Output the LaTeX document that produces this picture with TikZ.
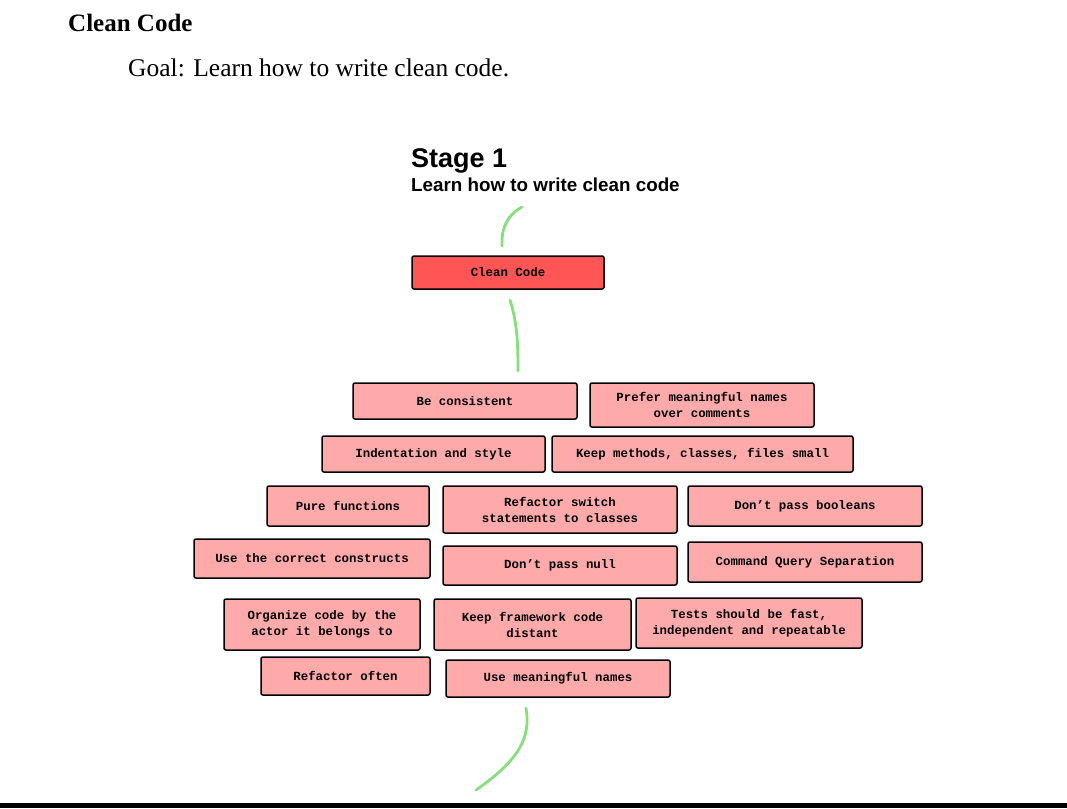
\documentclass[tikz,border=0pt]{standalone}
\usepackage{fontspec}
\setmainfont{Liberation Serif}
\newfontfamily\headsans{Liberation Sans}
\newfontfamily\boxmono{Liberation Mono}
\definecolor{lgreen}{RGB}{134,222,124}
\definecolor{redbox}{RGB}{255,85,85}
\definecolor{pinkbox}{RGB}{255,170,170}
\tikzset{
  box/.style={draw=black, line width=1.5pt, rounded corners=2pt, fill=pinkbox,
    inner sep=1pt, align=center, font=\boxmono\bfseries\fontsize{12.4}{16}\selectfont},
  mainbox/.style={box, fill=redbox},
  link/.style={draw=lgreen, line width=2.8pt, line cap=round},
}
\begin{document}
\begin{tikzpicture}[x=1pt,y=-1pt]
\useasboundingbox (0,0) rectangle (1067,808);
\fill[white] (0,0) rectangle (1067,808);
\fill[black] (0,803) rectangle (1067,808);
% headings
\node[anchor=base west, inner sep=0, font=\bfseries\fontsize{25}{30}\selectfont] (h1) at (68,31.5) {Clean Code};
\node[anchor=base west, inner sep=0, font=\fontsize{25.5}{30}\selectfont] (goal) at (128,76.5) {Goal: Learn how to write clean code.};
\node[anchor=base west, inner sep=0, font=\headsans\bfseries\fontsize{27}{32}\selectfont] (stage) at (411,167) {Stage 1};
\node[anchor=base west, inner sep=0, font=\headsans\bfseries\fontsize{18.8}{22}\selectfont] (sub) at (411,191) {Learn how to write clean code};
% main
\node[mainbox, minimum width=192pt, minimum height=33pt] (cc) at (508,272.5) {Clean Code};
% items
\node[box, minimum width=224pt, minimum height=36pt] (b1) at (465,401) {Be consistent};
\node[box, minimum width=224pt, minimum height=44pt] (b2) at (702,405) {Prefer meaningful names\\over comments};
\node[box, minimum width=223pt, minimum height=36pt] (b3) at (433.5,454) {Indentation and style};
\node[box, minimum width=301pt, minimum height=36pt] (b4) at (702.5,454) {Keep methods, classes, files small};
\node[box, minimum width=162pt, minimum height=40pt] (b5) at (348,506) {Pure functions};
\node[box, minimum width=234pt, minimum height=47pt] (b6) at (560,509.5) {Refactor switch\\statements to classes};
\node[box, minimum width=234pt, minimum height=40pt] (b7) at (805,506) {Don’t pass booleans};
\node[box, minimum width=236pt, minimum height=39pt] (b8) at (312,558.5) {Use the correct constructs};
\node[box, minimum width=234pt, minimum height=39pt] (b9) at (560,565.5) {Don’t pass null};
\node[box, minimum width=234pt, minimum height=40pt] (b10) at (805,562) {Command Query Separation};
\node[box, minimum width=196pt, minimum height=51pt] (b11) at (322,624.5) {Organize code by the\\actor it belongs to};
\node[box, minimum width=197pt, minimum height=51pt] (b12) at (532.5,624.5) {Keep framework code\\distant};
\node[box, minimum width=226pt, minimum height=50pt] (b13) at (749,623) {Tests should be fast,\\independent and repeatable};
\node[box, minimum width=169pt, minimum height=38pt] (b14) at (345.5,676) {Refactor often};
\node[box, minimum width=224pt, minimum height=37pt] (b15) at (558,678.5) {Use meaningful names};
% connectors
\coordinate (t1) at (522,207);
\coordinate (t2) at (502,246);
\coordinate (m1) at (510,300);
\coordinate (m2) at (518,371);
\coordinate (e1) at (526,708);
\coordinate (e2) at (476,790);
\draw[link] (t2) .. controls (501,226) and (509,214) .. (t1);
\draw[link] (m1) .. controls (518,325) and (518,350) .. (m2);
\draw[link] (e1) .. controls (531,738) and (519,760) .. (e2);
\end{tikzpicture}
\end{document}
